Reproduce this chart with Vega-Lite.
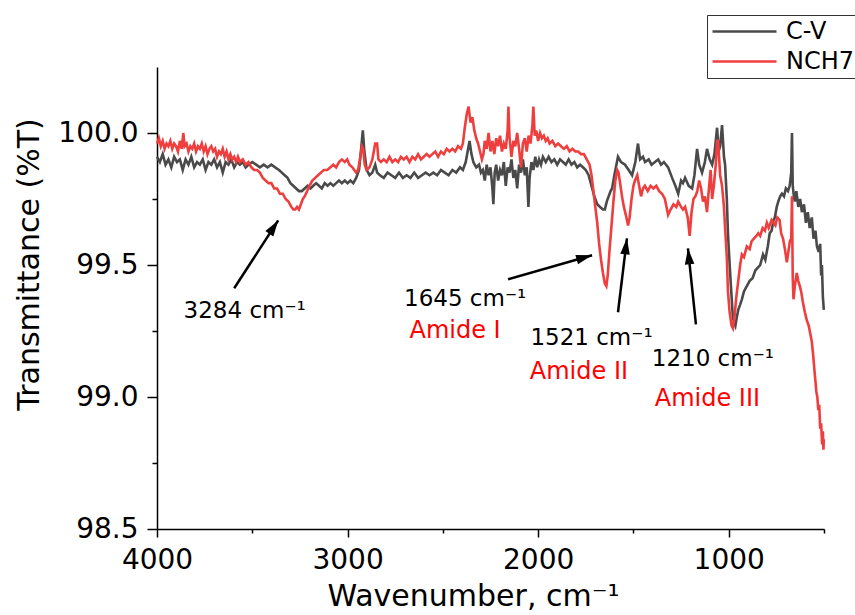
{
"$schema": "https://vega.github.io/schema/vega-lite/v6.json",
"width": 667, "height": 462,
"autosize": {"type": "none"},
"padding": {"left": 157, "top": 67, "right": 31, "bottom": 86},
"background": "white",
"config": {"view": {"stroke": null}, "font": "DejaVu Sans",
 "axis": {"grid": false, "domainColor": "black", "tickColor": "black", "domainWidth": 1.5, "tickWidth": 1.5, "labelColor": "black", "titleColor": "black", "labelFont": "DejaVu Sans", "titleFont": "DejaVu Sans", "labelFontSize": 28, "titleFontSize": 30, "titleFontWeight": "normal", "labelFlush": false, "labelOverlap": false}},
"datasets": {
"spectra": [
{"series":"C-V","wn":4000,"T":99.91},{"series":"C-V","wn":3985,"T":99.89},{"series":"C-V","wn":3970,"T":99.92},{"series":"C-V","wn":3955,"T":99.88},{"series":"C-V","wn":3940,"T":99.90},{"series":"C-V","wn":3925,"T":99.87},{"series":"C-V","wn":3910,"T":99.91},{"series":"C-V","wn":3895,"T":99.89},{"series":"C-V","wn":3880,"T":99.90},{"series":"C-V","wn":3865,"T":99.86},{"series":"C-V","wn":3850,"T":99.90},{"series":"C-V","wn":3835,"T":99.88},{"series":"C-V","wn":3820,"T":99.91},{"series":"C-V","wn":3805,"T":99.87},{"series":"C-V","wn":3790,"T":99.89},{"series":"C-V","wn":3775,"T":99.88},{"series":"C-V","wn":3760,"T":99.90},{"series":"C-V","wn":3745,"T":99.86},{"series":"C-V","wn":3730,"T":99.89},{"series":"C-V","wn":3715,"T":99.88},{"series":"C-V","wn":3700,"T":99.90},{"series":"C-V","wn":3685,"T":99.87},{"series":"C-V","wn":3670,"T":99.89},{"series":"C-V","wn":3655,"T":99.85},{"series":"C-V","wn":3640,"T":99.89},{"series":"C-V","wn":3625,"T":99.88},{"series":"C-V","wn":3610,"T":99.90},{"series":"C-V","wn":3595,"T":99.87},{"series":"C-V","wn":3580,"T":99.89},{"series":"C-V","wn":3565,"T":99.88},{"series":"C-V","wn":3550,"T":99.89},{"series":"C-V","wn":3535,"T":99.87},{"series":"C-V","wn":3520,"T":99.88},{"series":"C-V","wn":3500,"T":99.89},{"series":"C-V","wn":3480,"T":99.88},{"series":"C-V","wn":3460,"T":99.87},{"series":"C-V","wn":3440,"T":99.88},{"series":"C-V","wn":3420,"T":99.87},{"series":"C-V","wn":3400,"T":99.88},{"series":"C-V","wn":3380,"T":99.87},{"series":"C-V","wn":3360,"T":99.86},{"series":"C-V","wn":3345,"T":99.85},{"series":"C-V","wn":3330,"T":99.84},{"series":"C-V","wn":3315,"T":99.83},{"series":"C-V","wn":3300,"T":99.81},{"series":"C-V","wn":3285,"T":99.80},{"series":"C-V","wn":3270,"T":99.79},{"series":"C-V","wn":3255,"T":99.78},{"series":"C-V","wn":3240,"T":99.78},{"series":"C-V","wn":3225,"T":99.79},{"series":"C-V","wn":3210,"T":99.80},{"series":"C-V","wn":3195,"T":99.79},{"series":"C-V","wn":3180,"T":99.80},{"series":"C-V","wn":3165,"T":99.81},{"series":"C-V","wn":3150,"T":99.80},{"series":"C-V","wn":3135,"T":99.79},{"series":"C-V","wn":3120,"T":99.81},{"series":"C-V","wn":3105,"T":99.80},{"series":"C-V","wn":3090,"T":99.81},{"series":"C-V","wn":3075,"T":99.80},{"series":"C-V","wn":3060,"T":99.81},{"series":"C-V","wn":3045,"T":99.82},{"series":"C-V","wn":3030,"T":99.81},{"series":"C-V","wn":3015,"T":99.82},{"series":"C-V","wn":3000,"T":99.81},{"series":"C-V","wn":2985,"T":99.82},{"series":"C-V","wn":2970,"T":99.81},{"series":"C-V","wn":2955,"T":99.83},{"series":"C-V","wn":2940,"T":99.86},{"series":"C-V","wn":2930,"T":99.93},{"series":"C-V","wn":2920,"T":100.01},{"series":"C-V","wn":2912,"T":99.93},{"series":"C-V","wn":2900,"T":99.86},{"series":"C-V","wn":2885,"T":99.84},{"series":"C-V","wn":2870,"T":99.85},{"series":"C-V","wn":2855,"T":99.88},{"series":"C-V","wn":2845,"T":99.85},{"series":"C-V","wn":2830,"T":99.84},{"series":"C-V","wn":2810,"T":99.83},{"series":"C-V","wn":2790,"T":99.85},{"series":"C-V","wn":2770,"T":99.84},{"series":"C-V","wn":2750,"T":99.83},{"series":"C-V","wn":2730,"T":99.85},{"series":"C-V","wn":2710,"T":99.83},{"series":"C-V","wn":2690,"T":99.84},{"series":"C-V","wn":2670,"T":99.83},{"series":"C-V","wn":2650,"T":99.85},{"series":"C-V","wn":2630,"T":99.83},{"series":"C-V","wn":2610,"T":99.84},{"series":"C-V","wn":2590,"T":99.85},{"series":"C-V","wn":2570,"T":99.84},{"series":"C-V","wn":2550,"T":99.85},{"series":"C-V","wn":2530,"T":99.84},{"series":"C-V","wn":2510,"T":99.86},{"series":"C-V","wn":2490,"T":99.85},{"series":"C-V","wn":2470,"T":99.84},{"series":"C-V","wn":2450,"T":99.86},{"series":"C-V","wn":2430,"T":99.85},{"series":"C-V","wn":2410,"T":99.87},{"series":"C-V","wn":2395,"T":99.86},{"series":"C-V","wn":2380,"T":99.89},{"series":"C-V","wn":2370,"T":99.93},{"series":"C-V","wn":2360,"T":99.97},{"series":"C-V","wn":2350,"T":99.92},{"series":"C-V","wn":2340,"T":99.89},{"series":"C-V","wn":2325,"T":99.87},{"series":"C-V","wn":2310,"T":99.88},{"series":"C-V","wn":2300,"T":99.85},{"series":"C-V","wn":2290,"T":99.86},{"series":"C-V","wn":2280,"T":99.82},{"series":"C-V","wn":2270,"T":99.88},{"series":"C-V","wn":2260,"T":99.84},{"series":"C-V","wn":2250,"T":99.87},{"series":"C-V","wn":2240,"T":99.79},{"series":"C-V","wn":2235,"T":99.73},{"series":"C-V","wn":2228,"T":99.85},{"series":"C-V","wn":2220,"T":99.88},{"series":"C-V","wn":2210,"T":99.82},{"series":"C-V","wn":2200,"T":99.86},{"series":"C-V","wn":2190,"T":99.84},{"series":"C-V","wn":2180,"T":99.89},{"series":"C-V","wn":2170,"T":99.80},{"series":"C-V","wn":2160,"T":99.87},{"series":"C-V","wn":2150,"T":99.85},{"series":"C-V","wn":2140,"T":99.90},{"series":"C-V","wn":2130,"T":99.83},{"series":"C-V","wn":2120,"T":99.86},{"series":"C-V","wn":2110,"T":99.79},{"series":"C-V","wn":2100,"T":99.88},{"series":"C-V","wn":2090,"T":99.85},{"series":"C-V","wn":2080,"T":99.90},{"series":"C-V","wn":2070,"T":99.84},{"series":"C-V","wn":2060,"T":99.87},{"series":"C-V","wn":2051,"T":99.72},{"series":"C-V","wn":2045,"T":99.83},{"series":"C-V","wn":2035,"T":99.89},{"series":"C-V","wn":2025,"T":99.86},{"series":"C-V","wn":2015,"T":99.91},{"series":"C-V","wn":2005,"T":99.87},{"series":"C-V","wn":1995,"T":99.90},{"series":"C-V","wn":1985,"T":99.88},{"series":"C-V","wn":1975,"T":99.91},{"series":"C-V","wn":1960,"T":99.89},{"series":"C-V","wn":1945,"T":99.91},{"series":"C-V","wn":1930,"T":99.89},{"series":"C-V","wn":1915,"T":99.90},{"series":"C-V","wn":1900,"T":99.88},{"series":"C-V","wn":1885,"T":99.90},{"series":"C-V","wn":1870,"T":99.89},{"series":"C-V","wn":1855,"T":99.88},{"series":"C-V","wn":1840,"T":99.90},{"series":"C-V","wn":1825,"T":99.88},{"series":"C-V","wn":1810,"T":99.89},{"series":"C-V","wn":1795,"T":99.87},{"series":"C-V","wn":1780,"T":99.88},{"series":"C-V","wn":1765,"T":99.87},{"series":"C-V","wn":1750,"T":99.86},{"series":"C-V","wn":1735,"T":99.84},{"series":"C-V","wn":1720,"T":99.80},{"series":"C-V","wn":1705,"T":99.76},{"series":"C-V","wn":1690,"T":99.73},{"series":"C-V","wn":1675,"T":99.72},{"series":"C-V","wn":1660,"T":99.71},{"series":"C-V","wn":1650,"T":99.71},{"series":"C-V","wn":1640,"T":99.74},{"series":"C-V","wn":1630,"T":99.76},{"series":"C-V","wn":1620,"T":99.78},{"series":"C-V","wn":1612,"T":99.79},{"series":"C-V","wn":1600,"T":99.84},{"series":"C-V","wn":1581,"T":99.91},{"series":"C-V","wn":1565,"T":99.89},{"series":"C-V","wn":1544,"T":99.88},{"series":"C-V","wn":1525,"T":99.86},{"series":"C-V","wn":1507,"T":99.84},{"series":"C-V","wn":1490,"T":99.89},{"series":"C-V","wn":1476,"T":99.96},{"series":"C-V","wn":1465,"T":99.90},{"series":"C-V","wn":1450,"T":99.91},{"series":"C-V","wn":1439,"T":99.89},{"series":"C-V","wn":1420,"T":99.90},{"series":"C-V","wn":1405,"T":99.88},{"series":"C-V","wn":1387,"T":99.89},{"series":"C-V","wn":1370,"T":99.90},{"series":"C-V","wn":1355,"T":99.88},{"series":"C-V","wn":1340,"T":99.89},{"series":"C-V","wn":1318,"T":99.87},{"series":"C-V","wn":1297,"T":99.83},{"series":"C-V","wn":1280,"T":99.80},{"series":"C-V","wn":1265,"T":99.77},{"series":"C-V","wn":1250,"T":99.82},{"series":"C-V","wn":1240,"T":99.81},{"series":"C-V","wn":1229,"T":99.83},{"series":"C-V","wn":1210,"T":99.80},{"series":"C-V","wn":1192,"T":99.79},{"series":"C-V","wn":1180,"T":99.84},{"series":"C-V","wn":1166,"T":99.94},{"series":"C-V","wn":1155,"T":99.88},{"series":"C-V","wn":1140,"T":99.85},{"series":"C-V","wn":1125,"T":99.89},{"series":"C-V","wn":1114,"T":99.94},{"series":"C-V","wn":1100,"T":99.90},{"series":"C-V","wn":1087,"T":99.88},{"series":"C-V","wn":1075,"T":99.92},{"series":"C-V","wn":1061,"T":100.02},{"series":"C-V","wn":1053,"T":99.93},{"series":"C-V","wn":1045,"T":99.95},{"series":"C-V","wn":1035,"T":100.03},{"series":"C-V","wn":1025,"T":99.91},{"series":"C-V","wn":1019,"T":99.88},{"series":"C-V","wn":1010,"T":99.75},{"series":"C-V","wn":1004,"T":99.62},{"series":"C-V","wn":995,"T":99.50},{"series":"C-V","wn":985,"T":99.38},{"series":"C-V","wn":978,"T":99.30},{"series":"C-V","wn":970,"T":99.28},{"series":"C-V","wn":965,"T":99.27},{"series":"C-V","wn":958,"T":99.30},{"series":"C-V","wn":950,"T":99.33},{"series":"C-V","wn":940,"T":99.35},{"series":"C-V","wn":931,"T":99.37},{"series":"C-V","wn":920,"T":99.40},{"series":"C-V","wn":905,"T":99.42},{"series":"C-V","wn":890,"T":99.44},{"series":"C-V","wn":875,"T":99.45},{"series":"C-V","wn":860,"T":99.48},{"series":"C-V","wn":847,"T":99.49},{"series":"C-V","wn":835,"T":99.50},{"series":"C-V","wn":820,"T":99.54},{"series":"C-V","wn":808,"T":99.52},{"series":"C-V","wn":795,"T":99.57},{"series":"C-V","wn":785,"T":99.62},{"series":"C-V","wn":775,"T":99.63},{"series":"C-V","wn":765,"T":99.67},{"series":"C-V","wn":758,"T":99.68},{"series":"C-V","wn":748,"T":99.72},{"series":"C-V","wn":740,"T":99.74},{"series":"C-V","wn":730,"T":99.76},{"series":"C-V","wn":721,"T":99.77},{"series":"C-V","wn":710,"T":99.76},{"series":"C-V","wn":700,"T":99.79},{"series":"C-V","wn":689,"T":99.78},{"series":"C-V","wn":680,"T":99.80},{"series":"C-V","wn":672,"T":99.85},{"series":"C-V","wn":668,"T":100.00},{"series":"C-V","wn":664,"T":99.80},{"series":"C-V","wn":658,"T":99.76},{"series":"C-V","wn":653,"T":99.74},{"series":"C-V","wn":645,"T":99.78},{"series":"C-V","wn":635,"T":99.72},{"series":"C-V","wn":625,"T":99.75},{"series":"C-V","wn":616,"T":99.70},{"series":"C-V","wn":605,"T":99.73},{"series":"C-V","wn":595,"T":99.66},{"series":"C-V","wn":585,"T":99.70},{"series":"C-V","wn":575,"T":99.64},{"series":"C-V","wn":564,"T":99.68},{"series":"C-V","wn":555,"T":99.60},{"series":"C-V","wn":545,"T":99.63},{"series":"C-V","wn":537,"T":99.57},{"series":"C-V","wn":528,"T":99.55},{"series":"C-V","wn":520,"T":99.58},{"series":"C-V","wn":515,"T":99.46},{"series":"C-V","wn":511,"T":99.50},{"series":"C-V","wn":506,"T":99.38},{"series":"C-V","wn":501,"T":99.33},
{"series":"NCH7","wn":4000,"T":99.96},{"series":"NCH7","wn":3990,"T":99.98},{"series":"NCH7","wn":3980,"T":99.95},{"series":"NCH7","wn":3970,"T":99.97},{"series":"NCH7","wn":3960,"T":99.94},{"series":"NCH7","wn":3950,"T":99.96},{"series":"NCH7","wn":3940,"T":99.95},{"series":"NCH7","wn":3930,"T":99.97},{"series":"NCH7","wn":3920,"T":99.94},{"series":"NCH7","wn":3910,"T":99.96},{"series":"NCH7","wn":3900,"T":99.95},{"series":"NCH7","wn":3890,"T":99.93},{"series":"NCH7","wn":3880,"T":99.97},{"series":"NCH7","wn":3870,"T":99.94},{"series":"NCH7","wn":3862,"T":100.00},{"series":"NCH7","wn":3855,"T":99.95},{"series":"NCH7","wn":3845,"T":99.96},{"series":"NCH7","wn":3835,"T":99.93},{"series":"NCH7","wn":3825,"T":99.95},{"series":"NCH7","wn":3815,"T":99.94},{"series":"NCH7","wn":3805,"T":99.96},{"series":"NCH7","wn":3795,"T":99.93},{"series":"NCH7","wn":3785,"T":99.95},{"series":"NCH7","wn":3775,"T":99.94},{"series":"NCH7","wn":3765,"T":99.96},{"series":"NCH7","wn":3755,"T":99.93},{"series":"NCH7","wn":3745,"T":99.95},{"series":"NCH7","wn":3735,"T":99.92},{"series":"NCH7","wn":3725,"T":99.94},{"series":"NCH7","wn":3715,"T":99.95},{"series":"NCH7","wn":3705,"T":99.93},{"series":"NCH7","wn":3695,"T":99.94},{"series":"NCH7","wn":3685,"T":99.91},{"series":"NCH7","wn":3675,"T":99.93},{"series":"NCH7","wn":3665,"T":99.92},{"series":"NCH7","wn":3655,"T":99.94},{"series":"NCH7","wn":3645,"T":99.91},{"series":"NCH7","wn":3635,"T":99.93},{"series":"NCH7","wn":3625,"T":99.90},{"series":"NCH7","wn":3615,"T":99.92},{"series":"NCH7","wn":3605,"T":99.90},{"series":"NCH7","wn":3595,"T":99.91},{"series":"NCH7","wn":3585,"T":99.89},{"series":"NCH7","wn":3575,"T":99.91},{"series":"NCH7","wn":3565,"T":99.89},{"series":"NCH7","wn":3550,"T":99.90},{"series":"NCH7","wn":3535,"T":99.88},{"series":"NCH7","wn":3520,"T":99.89},{"series":"NCH7","wn":3505,"T":99.87},{"series":"NCH7","wn":3490,"T":99.86},{"series":"NCH7","wn":3475,"T":99.86},{"series":"NCH7","wn":3460,"T":99.85},{"series":"NCH7","wn":3445,"T":99.83},{"series":"NCH7","wn":3430,"T":99.82},{"series":"NCH7","wn":3415,"T":99.81},{"series":"NCH7","wn":3400,"T":99.81},{"series":"NCH7","wn":3385,"T":99.79},{"series":"NCH7","wn":3370,"T":99.79},{"series":"NCH7","wn":3355,"T":99.77},{"series":"NCH7","wn":3340,"T":99.77},{"series":"NCH7","wn":3325,"T":99.75},{"series":"NCH7","wn":3310,"T":99.74},{"series":"NCH7","wn":3295,"T":99.72},{"series":"NCH7","wn":3285,"T":99.71},{"series":"NCH7","wn":3275,"T":99.71},{"series":"NCH7","wn":3265,"T":99.72},{"series":"NCH7","wn":3255,"T":99.71},{"series":"NCH7","wn":3245,"T":99.73},{"series":"NCH7","wn":3235,"T":99.75},{"series":"NCH7","wn":3225,"T":99.76},{"series":"NCH7","wn":3212,"T":99.78},{"series":"NCH7","wn":3200,"T":99.80},{"series":"NCH7","wn":3185,"T":99.82},{"series":"NCH7","wn":3170,"T":99.83},{"series":"NCH7","wn":3155,"T":99.84},{"series":"NCH7","wn":3140,"T":99.85},{"series":"NCH7","wn":3125,"T":99.86},{"series":"NCH7","wn":3107,"T":99.86},{"series":"NCH7","wn":3090,"T":99.87},{"series":"NCH7","wn":3075,"T":99.88},{"series":"NCH7","wn":3060,"T":99.87},{"series":"NCH7","wn":3045,"T":99.89},{"series":"NCH7","wn":3030,"T":99.90},{"series":"NCH7","wn":3015,"T":99.89},{"series":"NCH7","wn":3002,"T":99.90},{"series":"NCH7","wn":2990,"T":99.88},{"series":"NCH7","wn":2975,"T":99.87},{"series":"NCH7","wn":2965,"T":99.86},{"series":"NCH7","wn":2955,"T":99.85},{"series":"NCH7","wn":2945,"T":99.86},{"series":"NCH7","wn":2935,"T":99.90},{"series":"NCH7","wn":2925,"T":99.95},{"series":"NCH7","wn":2918,"T":99.94},{"series":"NCH7","wn":2910,"T":99.88},{"series":"NCH7","wn":2900,"T":99.86},{"series":"NCH7","wn":2885,"T":99.87},{"series":"NCH7","wn":2870,"T":99.90},{"series":"NCH7","wn":2855,"T":99.96},{"series":"NCH7","wn":2845,"T":99.96},{"series":"NCH7","wn":2838,"T":99.90},{"series":"NCH7","wn":2825,"T":99.89},{"series":"NCH7","wn":2810,"T":99.90},{"series":"NCH7","wn":2795,"T":99.89},{"series":"NCH7","wn":2780,"T":99.91},{"series":"NCH7","wn":2765,"T":99.89},{"series":"NCH7","wn":2750,"T":99.90},{"series":"NCH7","wn":2735,"T":99.89},{"series":"NCH7","wn":2720,"T":99.91},{"series":"NCH7","wn":2705,"T":99.90},{"series":"NCH7","wn":2690,"T":99.91},{"series":"NCH7","wn":2675,"T":99.89},{"series":"NCH7","wn":2660,"T":99.91},{"series":"NCH7","wn":2645,"T":99.90},{"series":"NCH7","wn":2630,"T":99.92},{"series":"NCH7","wn":2615,"T":99.90},{"series":"NCH7","wn":2600,"T":99.91},{"series":"NCH7","wn":2585,"T":99.92},{"series":"NCH7","wn":2570,"T":99.91},{"series":"NCH7","wn":2555,"T":99.92},{"series":"NCH7","wn":2540,"T":99.93},{"series":"NCH7","wn":2525,"T":99.91},{"series":"NCH7","wn":2510,"T":99.93},{"series":"NCH7","wn":2495,"T":99.92},{"series":"NCH7","wn":2480,"T":99.94},{"series":"NCH7","wn":2465,"T":99.93},{"series":"NCH7","wn":2450,"T":99.94},{"series":"NCH7","wn":2435,"T":99.93},{"series":"NCH7","wn":2420,"T":99.95},{"series":"NCH7","wn":2405,"T":99.94},{"series":"NCH7","wn":2395,"T":99.96},{"series":"NCH7","wn":2385,"T":100.02},{"series":"NCH7","wn":2375,"T":100.07},{"series":"NCH7","wn":2365,"T":100.10},{"series":"NCH7","wn":2355,"T":100.04},{"series":"NCH7","wn":2345,"T":100.06},{"series":"NCH7","wn":2335,"T":100.01},{"series":"NCH7","wn":2325,"T":99.98},{"series":"NCH7","wn":2315,"T":99.96},{"series":"NCH7","wn":2305,"T":99.93},{"series":"NCH7","wn":2295,"T":99.90},{"series":"NCH7","wn":2287,"T":99.92},{"series":"NCH7","wn":2280,"T":99.97},{"series":"NCH7","wn":2270,"T":99.94},{"series":"NCH7","wn":2260,"T":100.00},{"series":"NCH7","wn":2250,"T":99.93},{"series":"NCH7","wn":2240,"T":99.97},{"series":"NCH7","wn":2230,"T":99.92},{"series":"NCH7","wn":2220,"T":99.98},{"series":"NCH7","wn":2210,"T":99.95},{"series":"NCH7","wn":2200,"T":99.99},{"series":"NCH7","wn":2190,"T":99.93},{"series":"NCH7","wn":2180,"T":99.96},{"series":"NCH7","wn":2170,"T":99.94},{"series":"NCH7","wn":2160,"T":100.01},{"series":"NCH7","wn":2156,"T":100.10},{"series":"NCH7","wn":2150,"T":99.98},{"series":"NCH7","wn":2140,"T":99.91},{"series":"NCH7","wn":2130,"T":99.97},{"series":"NCH7","wn":2120,"T":99.95},{"series":"NCH7","wn":2110,"T":100.00},{"series":"NCH7","wn":2100,"T":99.94},{"series":"NCH7","wn":2090,"T":99.87},{"series":"NCH7","wn":2080,"T":99.96},{"series":"NCH7","wn":2070,"T":99.98},{"series":"NCH7","wn":2060,"T":99.93},{"series":"NCH7","wn":2050,"T":99.99},{"series":"NCH7","wn":2040,"T":99.96},{"series":"NCH7","wn":2030,"T":100.03},{"series":"NCH7","wn":2025,"T":100.10},{"series":"NCH7","wn":2018,"T":99.99},{"series":"NCH7","wn":2010,"T":100.01},{"series":"NCH7","wn":2000,"T":99.97},{"series":"NCH7","wn":1990,"T":100.00},{"series":"NCH7","wn":1980,"T":99.98},{"series":"NCH7","wn":1970,"T":99.99},{"series":"NCH7","wn":1960,"T":99.97},{"series":"NCH7","wn":1950,"T":99.98},{"series":"NCH7","wn":1940,"T":99.96},{"series":"NCH7","wn":1925,"T":99.97},{"series":"NCH7","wn":1910,"T":99.95},{"series":"NCH7","wn":1895,"T":99.96},{"series":"NCH7","wn":1880,"T":99.95},{"series":"NCH7","wn":1865,"T":99.94},{"series":"NCH7","wn":1850,"T":99.95},{"series":"NCH7","wn":1835,"T":99.93},{"series":"NCH7","wn":1820,"T":99.94},{"series":"NCH7","wn":1805,"T":99.93},{"series":"NCH7","wn":1790,"T":99.93},{"series":"NCH7","wn":1775,"T":99.92},{"series":"NCH7","wn":1760,"T":99.92},{"series":"NCH7","wn":1745,"T":99.90},{"series":"NCH7","wn":1730,"T":99.88},{"series":"NCH7","wn":1720,"T":99.84},{"series":"NCH7","wn":1710,"T":99.78},{"series":"NCH7","wn":1700,"T":99.72},{"series":"NCH7","wn":1690,"T":99.66},{"series":"NCH7","wn":1680,"T":99.58},{"series":"NCH7","wn":1670,"T":99.52},{"series":"NCH7","wn":1660,"T":99.47},{"series":"NCH7","wn":1650,"T":99.43},{"series":"NCH7","wn":1642,"T":99.42},{"series":"NCH7","wn":1635,"T":99.46},{"series":"NCH7","wn":1625,"T":99.56},{"series":"NCH7","wn":1615,"T":99.65},{"series":"NCH7","wn":1605,"T":99.74},{"series":"NCH7","wn":1595,"T":99.82},{"series":"NCH7","wn":1585,"T":99.86},{"series":"NCH7","wn":1578,"T":99.85},{"series":"NCH7","wn":1568,"T":99.80},{"series":"NCH7","wn":1560,"T":99.76},{"series":"NCH7","wn":1550,"T":99.72},{"series":"NCH7","wn":1540,"T":99.69},{"series":"NCH7","wn":1528,"T":99.65},{"series":"NCH7","wn":1520,"T":99.68},{"series":"NCH7","wn":1510,"T":99.75},{"series":"NCH7","wn":1500,"T":99.80},{"series":"NCH7","wn":1492,"T":99.82},{"series":"NCH7","wn":1480,"T":99.84},{"series":"NCH7","wn":1470,"T":99.80},{"series":"NCH7","wn":1460,"T":99.76},{"series":"NCH7","wn":1450,"T":99.79},{"series":"NCH7","wn":1440,"T":99.80},{"series":"NCH7","wn":1425,"T":99.78},{"series":"NCH7","wn":1410,"T":99.80},{"series":"NCH7","wn":1395,"T":99.79},{"series":"NCH7","wn":1380,"T":99.80},{"series":"NCH7","wn":1365,"T":99.78},{"series":"NCH7","wn":1350,"T":99.77},{"series":"NCH7","wn":1335,"T":99.75},{"series":"NCH7","wn":1318,"T":99.69},{"series":"NCH7","wn":1305,"T":99.71},{"series":"NCH7","wn":1290,"T":99.73},{"series":"NCH7","wn":1275,"T":99.72},{"series":"NCH7","wn":1265,"T":99.74},{"series":"NCH7","wn":1250,"T":99.72},{"series":"NCH7","wn":1240,"T":99.71},{"series":"NCH7","wn":1229,"T":99.72},{"series":"NCH7","wn":1215,"T":99.68},{"series":"NCH7","wn":1205,"T":99.61},{"series":"NCH7","wn":1195,"T":99.70},{"series":"NCH7","wn":1185,"T":99.75},{"series":"NCH7","wn":1175,"T":99.76},{"series":"NCH7","wn":1165,"T":99.78},{"series":"NCH7","wn":1155,"T":99.82},{"series":"NCH7","wn":1145,"T":99.79},{"series":"NCH7","wn":1135,"T":99.74},{"series":"NCH7","wn":1125,"T":99.76},{"series":"NCH7","wn":1114,"T":99.70},{"series":"NCH7","wn":1105,"T":99.78},{"series":"NCH7","wn":1095,"T":99.86},{"series":"NCH7","wn":1087,"T":99.75},{"series":"NCH7","wn":1078,"T":99.80},{"series":"NCH7","wn":1068,"T":99.88},{"series":"NCH7","wn":1061,"T":99.97},{"series":"NCH7","wn":1056,"T":99.97},{"series":"NCH7","wn":1050,"T":99.90},{"series":"NCH7","wn":1045,"T":99.84},{"series":"NCH7","wn":1035,"T":99.80},{"series":"NCH7","wn":1025,"T":99.72},{"series":"NCH7","wn":1019,"T":99.64},{"series":"NCH7","wn":1010,"T":99.53},{"series":"NCH7","wn":1004,"T":99.40},{"series":"NCH7","wn":995,"T":99.32},{"series":"NCH7","wn":985,"T":99.27},{"series":"NCH7","wn":978,"T":99.26},{"series":"NCH7","wn":970,"T":99.30},{"series":"NCH7","wn":960,"T":99.38},{"series":"NCH7","wn":950,"T":99.44},{"series":"NCH7","wn":940,"T":99.50},{"series":"NCH7","wn":931,"T":99.54},{"series":"NCH7","wn":920,"T":99.53},{"series":"NCH7","wn":905,"T":99.57},{"series":"NCH7","wn":890,"T":99.56},{"series":"NCH7","wn":880,"T":99.59},{"series":"NCH7","wn":868,"T":99.60},{"series":"NCH7","wn":855,"T":99.61},{"series":"NCH7","wn":845,"T":99.62},{"series":"NCH7","wn":835,"T":99.61},{"series":"NCH7","wn":822,"T":99.64},{"series":"NCH7","wn":810,"T":99.63},{"series":"NCH7","wn":800,"T":99.66},{"series":"NCH7","wn":790,"T":99.64},{"series":"NCH7","wn":775,"T":99.67},{"series":"NCH7","wn":765,"T":99.66},{"series":"NCH7","wn":755,"T":99.65},{"series":"NCH7","wn":745,"T":99.68},{"series":"NCH7","wn":733,"T":99.67},{"series":"NCH7","wn":725,"T":99.62},{"series":"NCH7","wn":715,"T":99.60},{"series":"NCH7","wn":705,"T":99.56},{"series":"NCH7","wn":695,"T":99.51},{"series":"NCH7","wn":687,"T":99.55},{"series":"NCH7","wn":679,"T":99.59},{"series":"NCH7","wn":672,"T":99.60},{"series":"NCH7","wn":668,"T":99.76},{"series":"NCH7","wn":664,"T":99.45},{"series":"NCH7","wn":660,"T":99.37},{"series":"NCH7","wn":653,"T":99.42},{"series":"NCH7","wn":643,"T":99.47},{"series":"NCH7","wn":635,"T":99.44},{"series":"NCH7","wn":627,"T":99.42},{"series":"NCH7","wn":620,"T":99.40},{"series":"NCH7","wn":611,"T":99.36},{"series":"NCH7","wn":600,"T":99.32},{"series":"NCH7","wn":590,"T":99.29},{"series":"NCH7","wn":580,"T":99.27},{"series":"NCH7","wn":572,"T":99.24},{"series":"NCH7","wn":564,"T":99.21},{"series":"NCH7","wn":557,"T":99.16},{"series":"NCH7","wn":550,"T":99.10},{"series":"NCH7","wn":545,"T":99.06},{"series":"NCH7","wn":540,"T":99.02},{"series":"NCH7","wn":535,"T":99.00},{"series":"NCH7","wn":530,"T":98.95},{"series":"NCH7","wn":525,"T":98.97},{"series":"NCH7","wn":520,"T":98.88},{"series":"NCH7","wn":515,"T":98.90},{"series":"NCH7","wn":510,"T":98.82},{"series":"NCH7","wn":506,"T":98.87},{"series":"NCH7","wn":503,"T":98.80},{"series":"NCH7","wn":501,"T":98.84}
],
"arrows": [
{"wn":3595,"T":99.412,"wn2":3364,"T2":99.669,"angle":33.5},
{"wn":2158,"T":99.446,"wn2":1717,"T2":99.537,"angle":74},
{"wn":1581,"T":99.321,"wn2":1534,"T2":99.601,"angle":7},
{"wn":1172,"T":99.275,"wn2":1214,"T2":99.563,"angle":354}
],
"labels": [
{"text":"3284 cm⁻¹","wn":3540,"T":99.325,"kind":"peak"},
{"text":"1645 cm⁻¹","wn":2383,"T":99.372,"kind":"peak"},
{"text":"1521 cm⁻¹","wn":1720,"T":99.225,"kind":"peak"},
{"text":"1210 cm⁻¹","wn":1083,"T":99.143,"kind":"peak"},
{"text":"Amide I","wn":2436,"T":99.25,"kind":"amide"},
{"text":"Amide II","wn":1786,"T":99.093,"kind":"amide"},
{"text":"Amide III","wn":1112,"T":98.993,"kind":"amide"}
]
},
"layer": [
{"data": {"name": "spectra"},
 "mark": {"type": "line", "strokeWidth": 2.6},
 "encoding": {
  "x": {"field": "wn", "type": "quantitative", "scale": {"domain": [500, 4000], "reverse": true, "nice": false, "zero": false},
    "axis": {"values": [4000, 3000, 2000, 1000], "format": "d", "tickSize": 8, "labelPadding": 9, "title": "Wavenumber, cm⁻¹", "titleX": 316, "titleY": 76, "titleAlign": "center", "titleBaseline": "alphabetic", "orient": "bottom"}},
  "y": {"field": "T", "type": "quantitative", "scale": {"domain": [98.5, 100.25], "nice": false, "zero": false},
    "axis": {"values": [98.5, 99, 99.5, 100], "format": ".1f", "tickSize": 10, "labelPadding": 9, "title": "Transmittance (%T)", "titleAngle": -90, "titleX": -119, "titleY": 197, "titleAlign": "center", "titleBaseline": "alphabetic", "orient": "left"}},
  "color": {"field": "series", "type": "nominal", "scale": {"domain": ["C-V", "NCH7"], "range": ["#4a4a4a", "#ef3e3e"]},
    "legend": {"title": null, "orient": "none", "legendX": 550, "legendY": -52, "symbolType": "stroke", "symbolSize": 4096, "symbolStrokeWidth": 2.5, "labelFontSize": 24, "labelFont": "DejaVu Sans", "labelColor": "black", "strokeColor": "#333333", "fillColor": "white", "padding": 4, "clipHeight": 25, "rowPadding": 5, "labelOffset": 8}}
 }},
{"data": {"name": "arrows"},
 "mark": {"type": "rule", "strokeWidth": 2.5, "color": "black"},
 "encoding": {
  "x": {"field": "wn", "type": "quantitative", "axis": {"values": [3500, 2500, 1500, 500], "labels": false, "tickSize": 4, "domain": false, "title": null, "orient": "bottom"}},
  "y": {"field": "T", "type": "quantitative", "axis": {"values": [98.75, 99.25, 99.75], "labels": false, "tickSize": 5, "domain": false, "title": null, "orient": "left"}},
  "x2": {"field": "wn2"}, "y2": {"field": "T2"}
 }},
{"data": {"name": "arrows"},
 "mark": {"type": "point", "shape": "M0,0L0.6,2L-0.6,2Z", "filled": true, "color": "black", "size": 256, "opacity": 1},
 "encoding": {
  "x": {"field": "wn2", "type": "quantitative", "axis": null},
  "y": {"field": "T2", "type": "quantitative", "axis": null},
  "angle": {"field": "angle", "type": "quantitative", "scale": null}
 }},
{"data": {"name": "labels"},
 "transform": [{"filter": "datum.kind == 'peak'"}],
 "mark": {"type": "text", "font": "DejaVu Sans", "fontSize": 23, "color": "black", "align": "center", "baseline": "middle"},
 "encoding": {
  "x": {"field": "wn", "type": "quantitative", "axis": null},
  "y": {"field": "T", "type": "quantitative", "axis": null},
  "text": {"field": "text"}
 }},
{"data": {"name": "labels"},
 "transform": [{"filter": "datum.kind == 'amide'"}],
 "mark": {"type": "text", "font": "DejaVu Sans", "fontSize": 24, "color": "#ff0000", "align": "center", "baseline": "middle"},
 "encoding": {
  "x": {"field": "wn", "type": "quantitative", "axis": null},
  "y": {"field": "T", "type": "quantitative", "axis": null},
  "text": {"field": "text"}
 }}
],
"resolve": {"axis": {"x": "independent", "y": "independent"}}
}
